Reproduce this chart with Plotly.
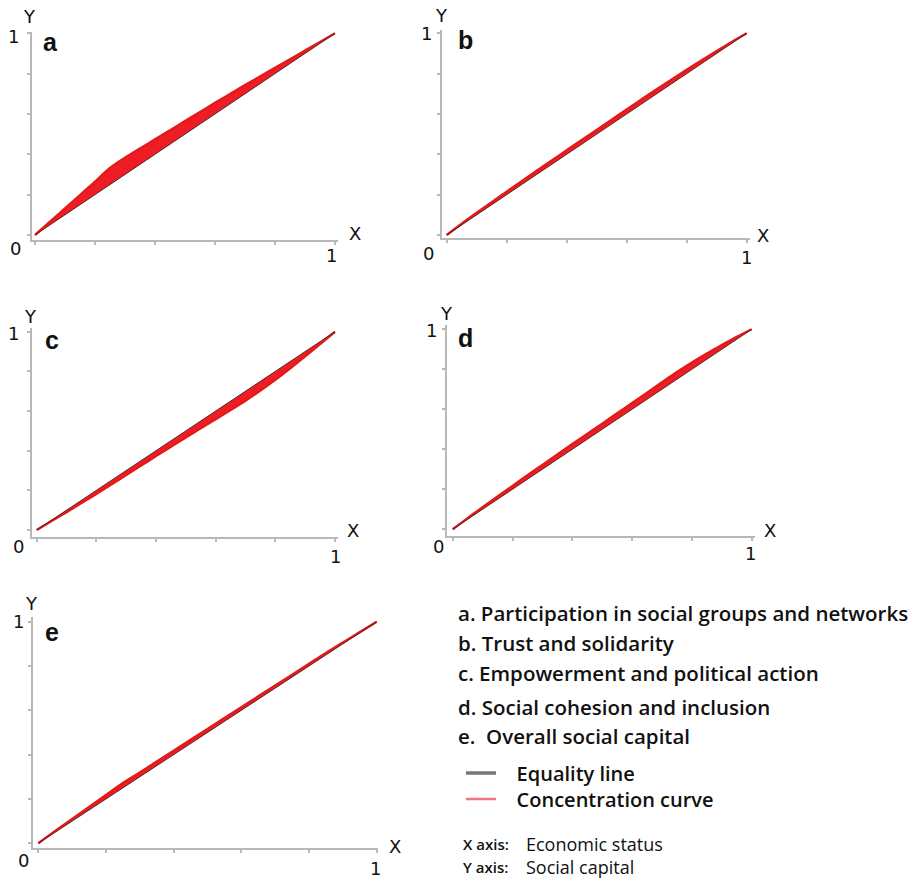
import plotly.graph_objects as go

# ---------------- data ----------------
x_share = [0, 0.05, 0.10, 0.15, 0.20, 0.25, 0.30, 0.35, 0.40, 0.45, 0.50,
           0.55, 0.60, 0.65, 0.70, 0.75, 0.80, 0.85, 0.90, 0.95, 1.0]

curve_a = [0, 0.066, 0.132, 0.198, 0.264, 0.332, 0.383, 0.429, 0.474, 0.519, 0.565,
           0.610, 0.655, 0.699, 0.743, 0.786, 0.829, 0.871, 0.914, 0.957, 1.0]
curve_b = [0, 0.056, 0.110, 0.163, 0.215, 0.267, 0.318, 0.369, 0.420, 0.471, 0.521,
           0.572, 0.622, 0.673, 0.722, 0.771, 0.819, 0.866, 0.912, 0.957, 1.0]
curve_c = [0, 0.045, 0.090, 0.136, 0.182, 0.229, 0.277, 0.325, 0.373, 0.420, 0.467,
           0.513, 0.559, 0.605, 0.652, 0.703, 0.757, 0.815, 0.876, 0.938, 1.0]
curve_d = [0, 0.056, 0.110, 0.164, 0.217, 0.270, 0.322, 0.374, 0.426, 0.477, 0.528,
           0.580, 0.631, 0.683, 0.735, 0.786, 0.834, 0.879, 0.921, 0.962, 1.0]
curve_e = [0, 0.056, 0.110, 0.164, 0.218, 0.272, 0.320, 0.369, 0.418, 0.467, 0.516,
           0.565, 0.614, 0.663, 0.712, 0.761, 0.810, 0.859, 0.906, 0.953, 1.0]
equality_x = [0, 1]
equality_y = [0, 1]

panel_letters = ["a", "b", "c", "d", "e"]
curves = [curve_a, curve_b, curve_c, curve_d, curve_e]
tick_vals = [0, 0.2, 0.4, 0.6, 0.8, 1.0]
axis_labels = ["0", "1", "X", "Y"]

legend_items = [
    "a. Participation in social groups and networks",
    "b. Trust and solidarity",
    "c. Empowerment and political action",
    "d. Social cohesion and inclusion",
    "e.  Overall social capital",
]
series_names = ["Equality line", "Concentration curve"]
axis_notes = [("X axis:", "Economic status"), ("Y axis:", "Social capital")]

# ---------------- layout geometry (pixels) ----------------
W, H = 918, 879
geo = {
    "a": dict(ox=35, oy=235, ex=335, ey=33.3, axl=32, axr=338, axb=240, axt=31.7,
              Y=(29.3, 16.7), one_y=(13.3, 36.7), let=(50, 41.7), zero=(15, 248.3), one_x=(331.7, 255), X=(355, 233.3)),
    "b": dict(ox=446.7, oy=235, ex=746.7, ey=33.3, axl=441.7, axr=750, axb=238.3, axt=30,
              Y=(441.7, 15), one_y=(426.7, 33), let=(465, 40), zero=(428, 253), one_x=(746.7, 257), X=(763, 235)),
    "c": dict(ox=36.7, oy=530, ex=335, ey=331.7, axl=31.7, axr=338, axb=536.7, axt=328.3,
              Y=(30, 316.7), one_y=(13, 333), let=(51.7, 340), zero=(18, 546.7), one_x=(335, 556.7), X=(353, 530)),
    "d": dict(ox=452.7, oy=529.3, ex=751.7, ey=329.3, axl=446.7, axr=755, axb=536, axt=325,
              Y=(446.7, 313), one_y=(431.7, 330), let=(465, 338), zero=(438, 546.7), one_x=(750, 553), X=(770, 530)),
    "e": dict(ox=38.3, oy=843.3, ex=376.7, ey=621.7, axl=33.3, axr=378.3, axb=848.3, axt=617.3,
              Y=(31.7, 603.3), one_y=(18.3, 621.7), let=(51.7, 631.7), zero=(23.3, 860), one_x=(375, 868.3), X=(395, 846.7)),
}

def px(x):
    return x / W

def py(y):
    return 1 - y / H

RED = "#ee1c24"
EQ_COLOR = "#4a2020"
AXIS_COLOR = "#b8b8b8"
LABEL_FONT = dict(family="DejaVu Sans", size=18, color="#111111")

fig = go.Figure()
annotations = []

for i, (letter, curve) in enumerate(zip(panel_letters, curves)):
    g = geo[letter]
    n = i + 1
    xa = "x" if n == 1 else f"x{n}"
    ya = "y" if n == 1 else f"y{n}"
    fig.add_trace(go.Scatter(x=equality_x, y=equality_y, xaxis=xa, yaxis=ya, mode="lines",
                             line=dict(width=0, color=RED), showlegend=False, hoverinfo="skip"))
    fig.add_trace(go.Scatter(x=x_share, y=curve, xaxis=xa, yaxis=ya, mode="lines",
                             line=dict(width=2.4, color="#e41a1a", shape="spline"),
                             fill="tonexty", fillcolor=RED, showlegend=False,
                             name=series_names[1]))
    fig.add_trace(go.Scatter(x=equality_x, y=equality_y, xaxis=xa, yaxis=ya, mode="lines",
                             line=dict(width=0.9, color=EQ_COLOR), showlegend=False,
                             name=series_names[0]))

    sx = g["ex"] - g["ox"]
    sy = g["oy"] - g["ey"]
    xr = [(g["axl"] - g["ox"]) / sx, (g["axr"] - g["ox"]) / sx]
    yr = [(g["oy"] - g["axb"]) / sy, (g["oy"] - g["axt"]) / sy]
    axis_common = dict(showgrid=False, zeroline=False, showline=True, linecolor=AXIS_COLOR,
                       linewidth=2, ticks="outside", ticklen=3, tickwidth=1.5,
                       tickcolor=AXIS_COLOR, tickvals=tick_vals, showticklabels=False,
                       fixedrange=True)
    xkey = "xaxis" if n == 1 else f"xaxis{n}"
    ykey = "yaxis" if n == 1 else f"yaxis{n}"
    fig.update_layout(**{
        xkey: dict(domain=[px(g["axl"]), px(g["axr"])], range=xr, anchor=ya, **axis_common),
        ykey: dict(domain=[py(g["axb"]), py(g["axt"])], range=yr, anchor=xa, **axis_common),
    })

    for key, txt in (("zero", axis_labels[0]), ("one_y", axis_labels[1]), ("one_x", axis_labels[1]),
                     ("X", axis_labels[2]), ("Y", axis_labels[3])):
        cx, cy = g[key]
        annotations.append(dict(x=px(cx), y=py(cy), xref="paper", yref="paper", text=txt,
                                showarrow=False, xanchor="center", yanchor="middle",
                                font=LABEL_FONT))
    cx, cy = g["let"]
    annotations.append(dict(x=px(cx), y=py(cy), xref="paper", yref="paper",
                            text=f"<b>{letter}</b>", showarrow=False, xanchor="center",
                            yanchor="middle",
                            font=dict(family="Liberation Sans", size=25, color="#111111")))

# legend entries (one legend box each, so they can be placed exactly)
NB = "\u00a0\u00a0\u00a0"
fig.add_trace(go.Scatter(x=[None], y=[None], mode="lines", name=NB + series_names[0],
                         line=dict(color="#777777", width=3.5), showlegend=True, legend="legend"))
fig.add_trace(go.Scatter(x=[None], y=[None], mode="lines", name=NB + series_names[1],
                         line=dict(color="#f07585", width=2.5), showlegend=True, legend="legend2"))

TEXT_FONT = dict(family="Open Sans", size=20.5, color="#111111", weight=600)
list_y = [613.3, 643.3, 672.7, 706.7, 736]
for txt, yy in zip(legend_items, list_y):
    annotations.append(dict(x=px(456), y=py(yy), xref="paper", yref="paper", text=txt,
                            showarrow=False, xanchor="left", yanchor="middle", font=TEXT_FONT))

note_y = [844.3, 866.5]
for (lab, val), yy in zip(axis_notes, note_y):
    annotations.append(dict(x=px(461), y=py(yy), xref="paper", yref="paper", text=lab,
                            showarrow=False, xanchor="left", yanchor="middle",
                            font=dict(family="Open Sans", size=15, color="#111111", weight=600)))
    annotations.append(dict(x=px(524), y=py(yy), xref="paper", yref="paper", text=val,
                            showarrow=False, xanchor="left", yanchor="middle",
                            font=dict(family="Open Sans", size=18, color="#111111", weight=500)))

LEG_FONT = dict(family="Open Sans", size=20, color="#111111", weight=600)
fig.update_layout(
    width=W, height=H, margin=dict(l=0, r=0, t=0, b=0),
    paper_bgcolor="white", plot_bgcolor="white",
    annotations=annotations,
    showlegend=True,
    legend=dict(x=px(461), y=py(773), xanchor="left", yanchor="middle", font=LEG_FONT,
                bgcolor="rgba(0,0,0,0)", itemwidth=30),
    legend2=dict(x=px(461), y=py(799), xanchor="left", yanchor="middle", font=LEG_FONT,
                 bgcolor="rgba(0,0,0,0)", itemwidth=30),
)

fig.write_html("out.html", config={"displayModeBar": False},
               post_script="document.body.style.margin='0px';document.body.style.overflow='hidden';")
